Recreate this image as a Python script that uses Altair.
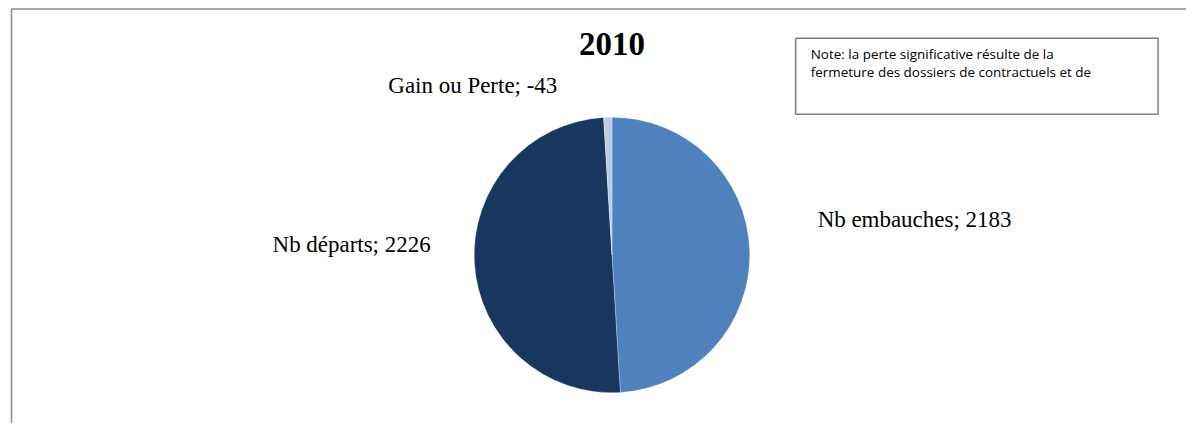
import altair as alt
import pandas as pd

categories = ["Nb embauches", "Nb départs", "Gain ou Perte"]
values = [2183, 2226, -43]
colors = ["#4F81BD", "#17375E", "#B9CDE5"]
title_text = "2010"
note_lines = ["Note: la perte significative résulte de la",
              "fermeture des dossiers de contractuels et de"]

df = pd.DataFrame({"cat": categories, "val": values, "order": [0, 1, 2]})
df["absval"] = df["val"].abs()
df["label"] = df["cat"] + "; " + df["val"].astype(str)

W, H = 1180, 415
CX, CY, R = 605, 247, 138

base = alt.Chart(df)

pie = base.mark_arc(outerRadius=R, stroke="white", strokeWidth=0.3).encode(
    theta=alt.Theta("absval:Q", stack=True),
    color=alt.Color("cat:N", scale=alt.Scale(domain=categories, range=colors), legend=None),
    order=alt.Order("order:Q"),
    x=alt.value(CX), y=alt.value(CY),
)

label_pos = {"Nb embauches": (811, 219), "Nb départs": (265, 244), "Gain ou Perte": (381, 85)}
labels = []
for c in categories:
    px, py = label_pos[c]
    labels.append(
        base.transform_filter(alt.datum.cat == c).mark_text(
            font="Liberation Serif", fontSize=23, align="left", baseline="alphabetic", color="#000000"
        ).encode(text="label:N", x=alt.value(px), y=alt.value(py))
    )

title = alt.Chart(pd.DataFrame({"t": [title_text]})).mark_text(
    font="Liberation Serif", fontSize=33, fontWeight="bold", align="center", baseline="alphabetic", color="#000"
).encode(text="t:N", x=alt.value(605), y=alt.value(47))

note_box = alt.Chart(pd.DataFrame({"a": [0]})).mark_rect(
    fill="white", stroke="#7f7f7f", strokeWidth=1.5
).encode(x=alt.value(789), x2=alt.value(1152), y=alt.value(30), y2=alt.value(106))

note_text = []
for i, t in enumerate(note_lines):
    note_text.append(
        alt.Chart(pd.DataFrame({"t": [t]})).mark_text(
            font="Open Sans", fontSize=13.5, align="left", baseline="alphabetic", color="#000"
        ).encode(text="t:N", x=alt.value(804), y=alt.value(51 + 18 * i))
    )

border_top = alt.Chart(pd.DataFrame({"a": [0]})).mark_rule(color="#8c8c8c", strokeWidth=1.5).encode(
    x=alt.value(3), x2=alt.value(W + 10), y=alt.value(0.75))
border_left = alt.Chart(pd.DataFrame({"a": [0]})).mark_rule(color="#8c8c8c", strokeWidth=1.5).encode(
    x=alt.value(3.5), y=alt.value(0.75), y2=alt.value(H + 20))

chart = alt.layer(border_top, border_left, pie, *labels, title, note_box, *note_text).properties(
    width=W, height=H, autosize=alt.AutoSizeParams(type="none"), padding=0
).configure_view(stroke=None, clip=False)

chart.save("out.html", embed_options={"renderer": "svg", "actions": False})
